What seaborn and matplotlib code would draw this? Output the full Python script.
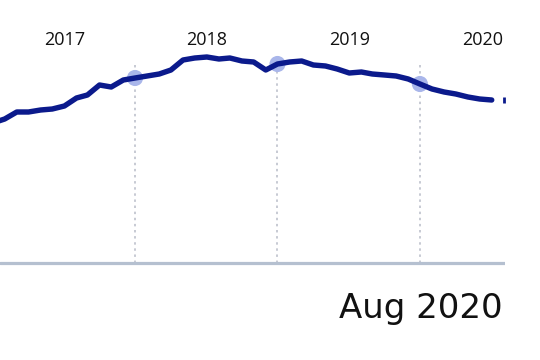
import matplotlib
matplotlib.use("Agg")
import matplotlib.pyplot as plt
import matplotlib.transforms as mtransforms
import pandas as pd
import seaborn as sns

# ---- data ----
months = pd.date_range("2016-07-01", "2020-01-01", freq="MS")
values = [140, 144, 151, 151, 153, 154,
          157, 165, 168, 178, 176, 183, 185, 187, 189, 193, 203, 205,
          206, 204, 205, 202, 201, 193, 199, 201, 202, 198, 197, 194,
          190, 191, 189, 188, 187, 184, 179, 174, 171, 169, 166, 164,
          163]
tail_month = [pd.Timestamp("2020-02-01")]
tail_value = [163.5]
highlight_months = pd.to_datetime(["2017-07-01", "2018-07-01", "2019-07-01"])
year_labels = ["2017", "2018", "2019", "2020"]
title_text = "Aug 2020"

df = pd.DataFrame({"month": months, "value": values})
hl = df[df["month"].isin(highlight_months)]

sns.set_style("white")
plt.rcParams["font.family"] = ["Open Sans", "DejaVu Sans"]

LINE = "#0b1a8c"
fig = plt.figure(figsize=(5.4, 3.6), dpi=100)
ax = fig.add_axes([0, 0, 505 / 540, 1])

# dotted guides
ax.vlines(highlight_months, 0, 200, colors="#b8bcc8", lw=1.1,
          linestyles=(0, (1.6, 2.4)), zorder=1)
# baseline
ax.axhline(0, color="#b5c0d0", lw=2.3, zorder=1)

# highlight markers
sns.scatterplot(data=hl, x="month", y="value", s=135, color="#a9b6ea",
                edgecolor="none", ax=ax, zorder=2, legend=False)
# main line
sns.lineplot(data=df, x="month", y="value", color=LINE, lw=3.9, ax=ax,
             zorder=3, legend=False)
ax.plot(tail_month, tail_value, marker="|", ms=4, mew=2, color=LINE,
        linestyle="none", zorder=3, clip_on=False)

ax.set_xlim(pd.Timestamp("2016-07-20"), pd.Timestamp("2020-02-04"))
ax.set_ylim(-97, 263)
ax.axis("off")

# year labels
for i, lab in enumerate(year_labels):
    x = pd.Timestamp(f"{lab}-01-01")
    if i == len(year_labels) - 1:
        tr = mtransforms.blended_transform_factory(ax.transAxes, ax.transData)
        ax.text(0.997, 223, lab, ha="right", va="center", fontsize=13,
                color="#111111", transform=tr)
    else:
        ax.text(x, 223, lab, ha="center", va="center", fontsize=13,
                color="#111111")

fig.text(503 / 540, 1 - 318 / 360, title_text, ha="right", va="baseline",
         fontsize=24.5, family=["DejaVu Sans"], color="#111111")

fig.savefig("out.png", dpi=100)
